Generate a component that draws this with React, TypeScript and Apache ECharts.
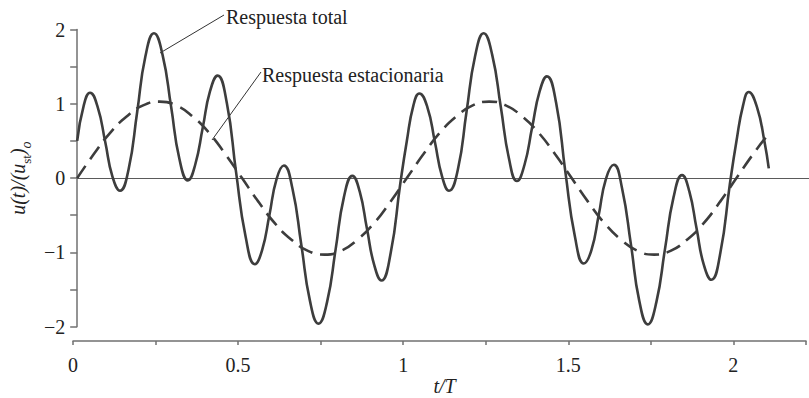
import React, { useEffect, useRef } from 'react';
import * as echarts from 'echarts';

// [t/T, u(t)/(u_st)_o]
const totalResponse: [number, number][] = [
  [0.0, 0.5], [0.02, 0.98], [0.039, 1.15], [0.062, 0.96], [0.085, 0.49], [0.107, 0.02],
  [0.13, -0.17], [0.156, 0.12], [0.182, 0.89], [0.207, 1.64], [0.233, 1.95], [0.259, 1.66],
  [0.285, 0.96], [0.31, 0.26], [0.336, -0.03], [0.358, 0.18], [0.381, 0.68], [0.403, 1.17],
  [0.426, 1.38], [0.454, 1.01], [0.482, 0.08], [0.511, -0.79], [0.539, -1.16], [0.561, -0.97],
  [0.583, -0.5], [0.605, -0.01], [0.627, 0.17], [0.653, -0.14], [0.68, -0.9], [0.706, -1.65],
  [0.732, -1.96], [0.758, -1.67], [0.784, -0.96], [0.809, -0.26], [0.835, 0.03], [0.857, -0.18],
  [0.879, -0.68], [0.901, -1.17], [0.923, -1.38], [0.951, -1.01], [0.98, -0.08], [1.0, 0.5],
  [1.02, 0.98], [1.038, 1.14], [1.062, 0.96], [1.085, 0.49], [1.107, 0.02], [1.128, -0.17],
  [1.155, 0.12], [1.181, 0.89], [1.207, 1.64], [1.233, 1.95], [1.259, 1.66], [1.285, 0.96],
  [1.31, 0.26], [1.334, -0.04], [1.357, 0.18], [1.38, 0.68], [1.403, 1.17], [1.425, 1.37],
  [1.453, 1.01], [1.481, 0.08], [1.51, -0.79], [1.537, -1.15], [1.56, -0.97], [1.582, -0.5],
  [1.604, -0.01], [1.628, 0.18], [1.653, -0.14], [1.68, -0.9], [1.705, -1.65], [1.731, -1.97],
  [1.757, -1.67], [1.783, -0.96], [1.809, -0.26], [1.835, 0.04], [1.857, -0.18], [1.879, -0.68],
  [1.901, -1.17], [1.924, -1.37], [1.951, -1.01], [1.98, -0.08], [2.0, 0.5], [2.02, 0.98],
  [2.037, 1.16], [2.062, 0.96], [2.085, 0.49], [2.098, 0.13],
];

const steadyResponse: [number, number][] = [
  [0.0, 0], [0.05, 0.32], [0.1, 0.61], [0.15, 0.83], [0.2, 0.98], [0.25, 1.03], [0.3, 0.98],
  [0.35, 0.83], [0.4, 0.61], [0.45, 0.32], [0.5, 0], [0.55, -0.32], [0.6, -0.61], [0.65, -0.83],
  [0.7, -0.98], [0.75, -1.03], [0.8, -0.98], [0.85, -0.83], [0.9, -0.61], [0.95, -0.32],
  [1.0, 0], [1.05, 0.32], [1.1, 0.61], [1.15, 0.83], [1.2, 0.98], [1.25, 1.03], [1.3, 0.98],
  [1.35, 0.83], [1.4, 0.61], [1.45, 0.32], [1.5, 0], [1.55, -0.32], [1.6, -0.61], [1.65, -0.83],
  [1.7, -0.98], [1.75, -1.03], [1.8, -0.98], [1.85, -0.83], [1.9, -0.61], [1.95, -0.32],
  [2.0, 0], [2.05, 0.32], [2.1, 0.61],
];

const xTickValues = [0, 0.5, 1, 1.5, 2];
const xTickLabels = ['0', '0.5', '1', '1.5', '2'];
const yTickValues = [-2, -1, 0, 1, 2];
const yTickLabels = ['\u22122', '\u22121', '0', '1', '2'];

const labelTotal = 'Respuesta total';
const labelSteady = 'Respuesta estacionaria';

const FONT = '"Liberation Serif", "Times New Roman", serif';
const AXIS_COLOR = '#707070';
const TEXT_COLOR = '#222';
const CURVE_COLOR = '#3d3d3d';

function lookup(values: number[], labels: string[], v: number): string {
  for (let i = 0; i < values.length; i++) {
    if (Math.abs(values[i] - v) < 1e-6) return labels[i];
  }
  return '';
}

export default function App() {
  const ref = useRef<HTMLDivElement>(null);

  useEffect(() => {
    document.body.style.margin = '0';
    if (!ref.current) return;
    const chart = echarts.init(ref.current, undefined, { renderer: 'svg' });
    const tickLine = { color: AXIS_COLOR, width: 1.5 };
    const option: any = {
      animation: false,
      backgroundColor: '#ffffff',
      textStyle: { fontFamily: FONT },
      grid: [
        { left: 73, top: 29.6, width: 736, height: 297 },
        { left: 73, top: 340, width: 736, height: 1 },
      ],
      xAxis: [
        {
          gridIndex: 0,
          type: 'value',
          min: 0,
          max: 2.22,
          axisLine: { show: true, onZero: true, lineStyle: { color: '#5a5a5a', width: 1 } },
          axisTick: { show: false },
          axisLabel: { show: false },
          splitLine: { show: false },
        },
        {
          gridIndex: 1,
          type: 'value',
          min: 0,
          max: 2.22,
          interval: 0.5,
          position: 'bottom',
          axisLine: { show: true, onZero: false, lineStyle: tickLine },
          axisTick: { show: true, length: 4, lineStyle: tickLine },
          minorTick: { show: true, splitNumber: 2, length: 4, lineStyle: tickLine },
          axisLabel: {
            margin: 14,
            fontSize: 20,
            color: TEXT_COLOR,
            fontFamily: FONT,
            formatter: (v: number) => lookup(xTickValues, xTickLabels, v),
          },
          splitLine: { show: false },
          minorSplitLine: { show: false },
          name: 't/T',
          nameLocation: 'middle',
          nameGap: 32,
          nameTextStyle: { fontSize: 20, fontStyle: 'italic', fontFamily: FONT, color: TEXT_COLOR, padding: [0, 0, 0, 10] },
        },
      ],
      yAxis: [
        {
          gridIndex: 0,
          type: 'value',
          min: -2,
          max: 2,
          interval: 1,
          axisLine: { show: true, onZero: false, lineStyle: tickLine },
          axisTick: { show: true, length: 7, lineStyle: tickLine },
          minorTick: { show: true, splitNumber: 2, length: 7, lineStyle: tickLine },
          axisLabel: {
            margin: 12,
            fontSize: 20,
            color: TEXT_COLOR,
            fontFamily: FONT,
            formatter: (v: number) => lookup(yTickValues, yTickLabels, v),
          },
          splitLine: { show: false },
          minorSplitLine: { show: false },
          name: '{m|u(t)/(u}{s|st}{m|)}{o|o}',
          nameLocation: 'middle',
          nameRotate: 90,
          nameGap: 36,
          nameTextStyle: {
            color: TEXT_COLOR,
            rich: {
              m: { fontSize: 20, fontStyle: 'italic', fontFamily: FONT, lineHeight: 30, color: TEXT_COLOR },
              s: { fontSize: 13, fontFamily: FONT, lineHeight: 14, verticalAlign: 'bottom', color: TEXT_COLOR },
              o: { fontSize: 14, fontStyle: 'italic', fontFamily: FONT, lineHeight: 14, verticalAlign: 'bottom', color: TEXT_COLOR },
            },
          },
        },
        { gridIndex: 1, type: 'value', show: false, min: 0, max: 1 },
      ],
      series: [
        {
          type: 'line',
          name: labelSteady,
          xAxisIndex: 0,
          yAxisIndex: 0,
          data: steadyResponse,
          smooth: true,
          showSymbol: false,
          symbol: 'none',
          lineStyle: { color: CURVE_COLOR, width: 2.6, type: [15, 8] },
        },
        {
          type: 'line',
          name: labelTotal,
          xAxisIndex: 0,
          yAxisIndex: 0,
          data: totalResponse,
          smooth: true,
          showSymbol: false,
          symbol: 'none',
          lineStyle: { color: CURVE_COLOR, width: 2.6 },
        },
      ],
      graphic: [
        { type: 'line', shape: { x1: 160, y1: 53, x2: 224, y2: 15 }, style: { stroke: '#333', lineWidth: 1 } },
        { type: 'text', x: 226, y: 17, style: { text: labelTotal, fontSize: 20, fontFamily: FONT, fill: TEXT_COLOR, verticalAlign: 'middle' } },
        { type: 'line', shape: { x1: 212, y1: 140, x2: 261, y2: 72 }, style: { stroke: '#333', lineWidth: 1 } },
        { type: 'text', x: 262, y: 75, style: { text: labelSteady, fontSize: 20, fontFamily: FONT, fill: TEXT_COLOR, verticalAlign: 'middle' } },
      ],
    };
    chart.setOption(option);
    return () => chart.dispose();
  }, []);

  return <div ref={ref} style={{ width: 809, height: 398 }} />;
}
